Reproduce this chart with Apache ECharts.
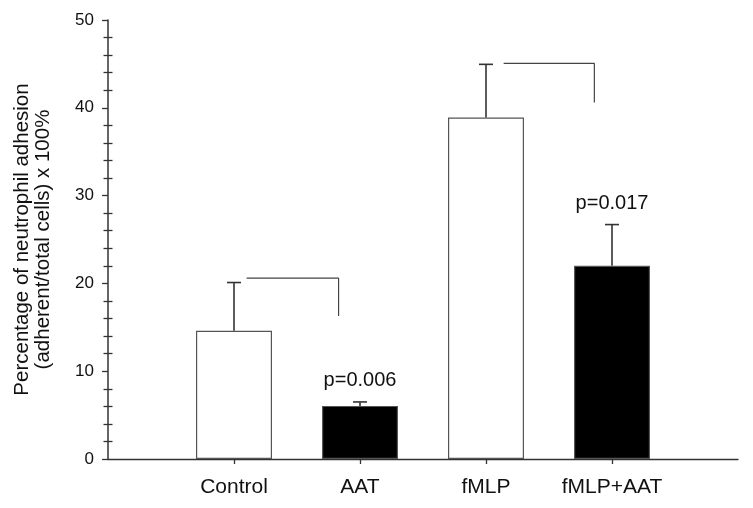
<!DOCTYPE html>
<html>
<head>
<meta charset="utf-8">
<script src="https://cdn.jsdelivr.net/npm/echarts@6/dist/echarts.min.js"></script>
<style>html,body{margin:0;padding:0;background:#fff}#c{width:753px;height:508px}</style>
</head>
<body>
<div id="c"></div>
<script>
var categories = ['', 'Control', 'AAT', 'fMLP', 'fMLP+AAT', ''];
var means = [null, 14.6, 6.05, 38.9, 22.0, null];
var errTops = [null, 20.1, 6.5, 44.95, 26.7, null];
var pLabels = ['', '', 'p=0.006', '', 'p=0.017', ''];
var filled = [false, false, true, false, true, false];
var bracket1 = [[1.10, 20.6], [1.83, 20.6], [1.83, 16.3]];
var bracket2 = [[3.14, 45.05], [3.86, 45.05], [3.86, 40.6]];
var yTicks = [0, 10, 20, 30, 40, 50];

var FONT = '"Liberation Sans", Arial, sans-serif';
var chart = echarts.init(document.getElementById('c'));
var errData = [];
for (var i = 0; i < categories.length; i++) {
  if (means[i] != null) errData.push([i, means[i], errTops[i], pLabels[i]]);
}
chart.setOption({
  animation: false,
  backgroundColor: '#fff',
  grid: {left: 108, right: 15, top: 20, bottom: 49, containLabel: false, outerBoundsMode: 'none'},
  xAxis: [{
    type: 'category', data: categories, boundaryGap: false,
    axisLine: {lineStyle: {color: '#333', width: 1.3}},
    axisTick: {length: 5, lineStyle: {color: '#333', width: 1.3}, interval: function (i) { return i > 0 && i < 5; }},
    axisLabel: {color: '#111', fontSize: 21, fontFamily: FONT, margin: 18, interval: 0},
    splitLine: {show: false}
  }, {
    type: 'value', min: 0, max: 5, show: false
  }],
  yAxis: [{
    type: 'value', min: 0, max: 50, interval: 10,
    axisLine: {show: true, lineStyle: {color: '#333', width: 1.5}},
    axisTick: {show: true, length: 6, lineStyle: {color: '#333', width: 1.3}},
    minorTick: {show: true, splitNumber: 5, length: 4.5, lineStyle: {color: '#333', width: 1.3}},
    axisLabel: {color: '#111', fontSize: 17, fontFamily: FONT, margin: 14,
      formatter: function (v) { return yTicks.indexOf(v) >= 0 ? String(v) : ''; }},
    splitLine: {show: false},
    name: 'Percentage of neutrophil adhesion\n(adherent/total cells) x 100%',
    nameLocation: 'middle', nameGap: 54, nameRotate: 90,
    nameTextStyle: {color: '#111', fontSize: 20.5, fontFamily: FONT, lineHeight: 21}
  }, {
    type: 'value', min: 0, max: 50, interval: 10, position: 'left', offset: 0,
    axisLine: {show: false},
    axisTick: {show: false, inside: true},
    minorTick: {show: true, splitNumber: 5, length: 4.5, lineStyle: {color: '#333', width: 1.3}},
    axisLabel: {show: false},
    splitLine: {show: false}
  }],
  series: [{
    type: 'bar', data: means, barWidth: 76,
    itemStyle: {
      color: function (p) { return filled[p.dataIndex] ? '#000' : '#fff'; },
      borderColor: '#555', borderWidth: 1.2
    }
  }, {
    type: 'custom', data: errData, z: 5,
    renderItem: function (params, api) {
      var x = api.value(0);
      var base = api.coord([x, api.value(1)]);
      var top = api.coord([x, api.value(2)]);
      var st = {stroke: '#333', lineWidth: 1.6};
      var ch = [
        {type: 'line', shape: {x1: base[0], y1: base[1], x2: top[0], y2: top[1]}, style: st},
        {type: 'line', shape: {x1: top[0] - 7, y1: top[1], x2: top[0] + 7, y2: top[1]}, style: st}
      ];
      var lbl = api.value(3);
      if (lbl) {
        ch.push({type: 'text', style: {text: lbl, x: top[0], y: top[1] - 21, align: 'center', verticalAlign: 'middle',
          fill: '#111', font: '20px ' + FONT}});
      }
      return {type: 'group', children: ch};
    }
  }, {
    type: 'line', xAxisIndex: 1, data: bracket1, symbol: 'none',
    lineStyle: {color: '#444', width: 1.2}
  }, {
    type: 'line', xAxisIndex: 1, data: bracket2, symbol: 'none',
    lineStyle: {color: '#444', width: 1.2}
  }]
});
</script>
</body>
</html>
